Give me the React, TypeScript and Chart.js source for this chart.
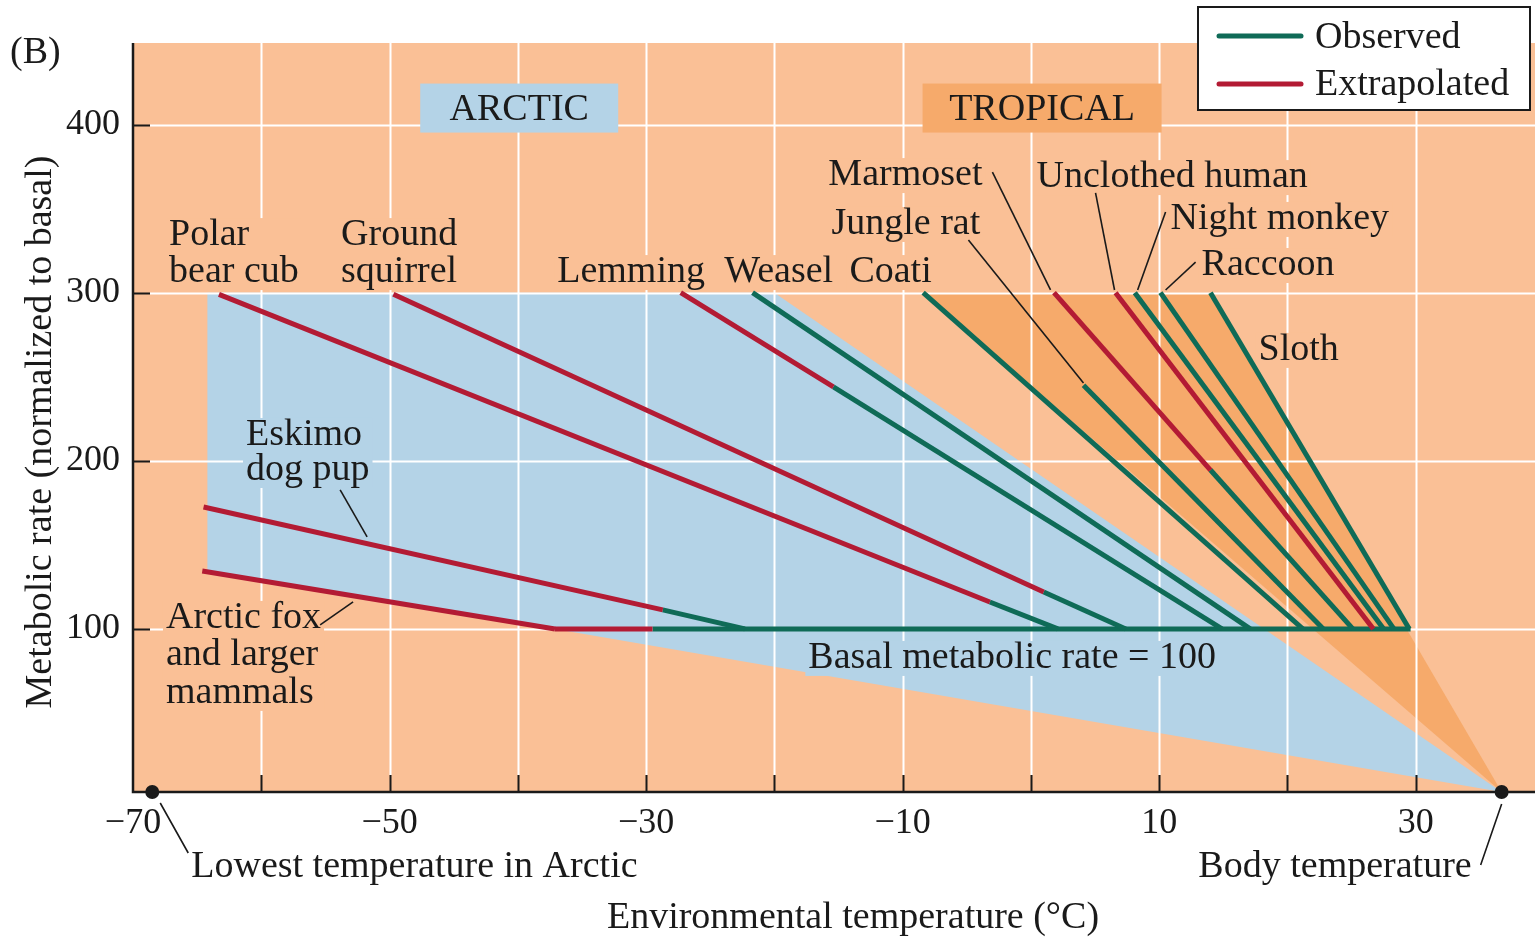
import React, { useEffect, useRef } from "react";
import { Chart, registerables } from "chart.js";

Chart.register(...registerables);

// ---------------- data ----------------
const xTickValues = [-70, -60, -50, -40, -30, -20, -10, 0, 10, 20, 30];
const xLabeledTicks = [-70, -50, -30, -10, 10, 30];
const yTickValues = [100, 200, 300, 400];
const xRange = [-70, 39.3];
const yRange = [3, 448.5];

const speciesNames = [
  "Arctic fox", "Eskimo dog pup", "Polar bear cub", "Ground squirrel", "Lemming",
  "Weasel", "Coati", "Jungle rat", "Marmoset", "Unclothed human",
  "Night monkey", "Raccoon", "Sloth",
];
// start of each curve (extrapolated part begins here)
const startTemp = [-64.6, -64.5, -63.3, -49.7, -27.3, -21.7, -8.4, 4.1, 1.8, 6.6, 8.1, 10.1, 14.0];
const startRate = [134.5, 172.5, 299, 299, 300, 300, 300, 245, 300, 300, 300, 300, 300];
// where the observed part begins
const observedFromTemp = [-37.1, -28.7, -3.2, 1.0, -15.4, -21.7, -8.4, 4.1, 14.0, 26.7, 8.1, 10.1, 14.0];
const observedFromRate = [100, 111.3, 116, 122, 244, 300, 300, 245, 194.5, 100, 300, 300, 300];
// lower critical temperature (curve meets basal rate)
const endTemp = [-37.1, -22.3, 2.1, 7.4, 14.9, 17.1, 21.2, 22.8, 25.1, 26.7, 27.5, 28.3, 29.5];

const basalRate = 100;
const basalTemp = [-37.1, -29.5, 29.6]; // extrapolated from [0]..[1], observed [1]..[2]

const arcticZoneTemp = [-64.2, -20, 36.7, -37.1, -64.2];
const arcticZoneRate = [300, 300, 3, 100, 134.5];
const tropicalZoneTemp = [-8.4, 14.0, 36.7];
const tropicalZoneRate = [300, 300, 3];

const lowestArcticTemp = -68.5;
const bodyTemp = 36.7;

// ---------------- styles ----------------
const PEACH = "#FAC096";
const BLUE = "#B4D3E7";
const DARK_ORANGE = "#F6AA6B";
const GREEN = "#0F6B57";
const RED = "#B31B34";
const INK = "#1A1A1A";
const FONT = "'Liberation Serif', 'Times New Roman', serif";
const FS = 38;
const TICK = 17;

const fmt = (v: number) => (v < 0 ? "\u2212" + Math.abs(v) : String(v));

export default function App() {
  const ref = useRef<HTMLCanvasElement>(null);

  useEffect(() => {
    document.body.style.margin = "0";
    const canvas = ref.current!;
    const datasets: any[] = [];

    const pts = (xs: number[], ys: number[]) => xs.map((x, i) => ({ x, y: ys[i] }));

    datasets.push({
      label: "arctic zone",
      data: pts(arcticZoneTemp, arcticZoneRate),
      fill: "shape",
      backgroundColor: BLUE,
      borderColor: "rgba(0,0,0,0)",
      borderWidth: 0,
      pointRadius: 0,
      order: 10,
    });
    const tropicalIndex = datasets.length;
    datasets.push({
      label: "tropical zone",
      data: pts(tropicalZoneTemp, tropicalZoneRate),
      fill: "shape",
      backgroundColor: DARK_ORANGE,
      borderColor: "rgba(0,0,0,0)",
      borderWidth: 0,
      pointRadius: 0,
      order: 9,
    });

    const lineStyle = (color: string) => ({
      borderColor: color,
      borderWidth: 5,
      borderCapStyle: "butt",
      pointRadius: 0,
      fill: false,
      order: 1,
    });

    speciesNames.forEach((name, i) => {
      const hasExtrap = startTemp[i] !== observedFromTemp[i] || startRate[i] !== observedFromRate[i];
      const hasObs = observedFromTemp[i] !== endTemp[i] || observedFromRate[i] !== basalRate;
      if (hasExtrap) {
        datasets.push({
          label: name + " (extrapolated)",
          data: [
            { x: startTemp[i], y: startRate[i] },
            { x: observedFromTemp[i], y: observedFromRate[i] },
          ],
          ...lineStyle(RED),
        });
      }
      if (hasObs) {
        datasets.push({
          label: name + " (observed)",
          data: [
            { x: observedFromTemp[i], y: observedFromRate[i] },
            { x: endTemp[i], y: basalRate },
          ],
          ...lineStyle(GREEN),
        });
      }
    });
    datasets.push({
      label: "basal extrapolated",
      data: [
        { x: basalTemp[0], y: basalRate },
        { x: basalTemp[1], y: basalRate },
      ],
      ...lineStyle(RED),
    });
    datasets.push({
      label: "basal observed",
      data: [
        { x: basalTemp[1], y: basalRate },
        { x: basalTemp[2], y: basalRate },
      ],
      ...lineStyle(GREEN),
    });
    datasets.push({
      label: "markers",
      data: [
        { x: lowestArcticTemp, y: yRange[0] },
        { x: bodyTemp, y: yRange[0] },
      ],
      showLine: false,
      pointRadius: 7,
      pointBackgroundColor: INK,
      pointBorderWidth: 0,
      clip: false,
      order: 0,
    });

    const plotLabels = [
      { lines: ["Polar", "bear cub"], t: -67.19, r: 328.3, bg: PEACH, lh: 37 },
      { lines: ["Ground", "squirrel"], t: -53.78, r: 328.3, bg: PEACH, lh: 37 },
      { lines: ["Lemming"], t: -36.93, r: 306.3, bg: PEACH, lh: 37 },
      { lines: ["Weasel"], t: -23.9, r: 306.3, bg: PEACH, lh: 37 },
      { lines: ["Coati"], t: -14.15, r: 306.3, bg: PEACH, lh: 37 },
      { lines: ["Marmoset"], t: -15.79, r: 364.0, bg: PEACH, lh: 37 },
      { lines: ["Unclothed human"], t: 0.44, r: 362.8, bg: PEACH, lh: 37 },
      { lines: ["Jungle rat"], t: -15.55, r: 334.9, bg: PEACH, lh: 37 },
      { lines: ["Night monkey"], t: 10.89, r: 337.9, bg: PEACH, lh: 37 },
      { lines: ["Raccoon"], t: 13.31, r: 310.5, bg: PEACH, lh: 37 },
      { lines: ["Sloth"], t: 17.75, r: 260.0, bg: PEACH, lh: 37 },
      { lines: ["Eskimo", "dog pup"], t: -61.19, r: 209.4, bg: BLUE, lh: 35 },
      { lines: ["Arctic fox", "and larger", "mammals"], t: -67.43, r: 100.6, bg: PEACH, lh: 37.5 },
      { lines: ["Basal metabolic rate = 100"], t: -17.35, r: 76.8, bg: BLUE, lh: 37 },
    ];
    const zoneBoxes = [
      { text: "ARCTIC", t: -39.89, r: 409.8, hw: 99, hh: 24.5, bg: BLUE },
      { text: "TROPICAL", t: 0.87, r: 409.8, hw: 119.5, hh: 24.5, bg: DARK_ORANGE },
    ];
    const leaders = [
      [-53.85, 182.7, -51.75, 154.7],
      [-55.41, 102.4, -52.84, 116.1],
      [-3.0, 371.7, 1.53, 301.6],
      [-4.87, 331.3, 4.1, 246.3],
      [5.04, 359.3, 6.52, 301.6],
      [10.5, 348.0, 8.32, 301.6],
      [12.84, 318.2, 10.5, 301.6],
    ];

    const decor = {
      id: "decor",
      beforeDraw(chart: any) {
        const { ctx, chartArea: a } = chart;
        ctx.save();
        ctx.fillStyle = PEACH;
        ctx.fillRect(a.left, a.top, a.right - a.left, a.bottom - a.top);
        ctx.restore();
      },
      afterDatasetDraw(chart: any, args: any) {
        if (args.index !== tropicalIndex) return;
        const { ctx, chartArea: a, scales } = chart;
        const xs = scales.x, ys = scales.y;
        ctx.save();
        // white grid
        ctx.strokeStyle = "#FFFFFF";
        ctx.lineWidth = 2;
        for (const v of xTickValues) {
          if (v === xRange[0]) continue;
          const px = Math.round(xs.getPixelForValue(v)) + 0.5;
          ctx.beginPath();
          ctx.moveTo(px, a.top);
          ctx.lineTo(px, a.bottom - TICK);
          ctx.stroke();
        }
        for (const v of yTickValues) {
          const py = Math.round(ys.getPixelForValue(v)) + 0.5;
          ctx.beginPath();
          ctx.moveTo(a.left + TICK, py);
          ctx.lineTo(a.right, py);
          ctx.stroke();
        }
        // labels with knock-out backgrounds
        ctx.font = `${FS}px ${FONT}`;
        ctx.textBaseline = "alphabetic";
        ctx.textAlign = "left";
        for (const L of plotLabels) {
          const x0 = xs.getPixelForValue(L.t);
          const y0 = ys.getPixelForValue(L.r);
          const w = Math.max(...L.lines.map((s) => ctx.measureText(s).width));
          const top = y0 - 27;
          const bottom = y0 + (L.lines.length - 1) * L.lh + 8;
          ctx.fillStyle = L.bg;
          ctx.fillRect(x0 - 3, top, w + 6, bottom - top);
          ctx.fillStyle = INK;
          L.lines.forEach((s, k) => ctx.fillText(s, x0, y0 + k * L.lh));
        }
        for (const Z of zoneBoxes) {
          const cx = xs.getPixelForValue(Z.t);
          const cy = ys.getPixelForValue(Z.r);
          ctx.fillStyle = Z.bg;
          ctx.fillRect(cx - Z.hw, cy - Z.hh, Z.hw * 2, Z.hh * 2);
          ctx.fillStyle = INK;
          ctx.textAlign = "center";
          ctx.fillText(Z.text, cx, cy + 12);
          ctx.textAlign = "left";
        }
        ctx.restore();
      },
      afterDatasetsDraw(chart: any) {
        const { ctx, chartArea: a, scales } = chart;
        const xs = scales.x, ys = scales.y;
        ctx.save();
        // axes
        ctx.strokeStyle = INK;
        ctx.lineWidth = 2.5;
        ctx.beginPath();
        ctx.moveTo(a.left, a.top);
        ctx.lineTo(a.left, a.bottom);
        ctx.lineTo(a.right, a.bottom);
        ctx.stroke();
        ctx.lineWidth = 2;
        for (const v of xTickValues) {
          if (v === xRange[0]) continue;
          const px = Math.round(xs.getPixelForValue(v)) + 0.5;
          ctx.beginPath();
          ctx.moveTo(px, a.bottom);
          ctx.lineTo(px, a.bottom - TICK);
          ctx.stroke();
        }
        for (const v of yTickValues) {
          const py = Math.round(ys.getPixelForValue(v)) + 0.5;
          ctx.beginPath();
          ctx.moveTo(a.left, py);
          ctx.lineTo(a.left + TICK, py);
          ctx.stroke();
        }
        // leader lines
        ctx.lineWidth = 1.6;
        for (const [t1, r1, t2, r2] of leaders) {
          ctx.beginPath();
          ctx.moveTo(xs.getPixelForValue(t1), ys.getPixelForValue(r1));
          ctx.lineTo(xs.getPixelForValue(t2), ys.getPixelForValue(r2));
          ctx.stroke();
        }
        const lowX = xs.getPixelForValue(lowestArcticTemp);
        const bodyX = xs.getPixelForValue(bodyTemp);
        ctx.beginPath();
        ctx.moveTo(lowX + 8, a.bottom + 11);
        ctx.lineTo(lowX + 36, a.bottom + 61);
        ctx.moveTo(bodyX, a.bottom + 12);
        ctx.lineTo(bodyX - 21, a.bottom + 73);
        ctx.stroke();

        // outside text
        ctx.fillStyle = INK;
        ctx.font = `${FS}px ${FONT}`;
        ctx.textBaseline = "alphabetic";
        ctx.textAlign = "left";
        ctx.fillText("Lowest temperature in Arctic", lowX + 39, a.bottom + 85);
        ctx.textAlign = "right";
        ctx.fillText("Body temperature", bodyX - 30, a.bottom + 85);
        ctx.textAlign = "center";
        ctx.fillText("Environmental temperature (\u00B0C)", a.left + 720, a.bottom + 136);
        ctx.textAlign = "left";
        ctx.fillText("(B)", 10, 63);
        ctx.save();
        ctx.translate(51, 432);
        ctx.rotate(-Math.PI / 2);
        ctx.textAlign = "center";
        ctx.fillText("Metabolic rate (normalized to basal)", 0, 0);
        ctx.restore();

        // legend
        const bx = a.right - 337, by = 7, bw = 332, bh = 103;
        ctx.fillStyle = "#FFFFFF";
        ctx.fillRect(bx, by, bw, bh);
        ctx.strokeStyle = INK;
        ctx.lineWidth = 2;
        ctx.strokeRect(bx, by, bw, bh);
        ctx.lineWidth = 5;
        ctx.lineCap = "round";
        ctx.strokeStyle = GREEN;
        ctx.beginPath();
        ctx.moveTo(bx + 21, by + 29);
        ctx.lineTo(bx + 103, by + 29);
        ctx.stroke();
        ctx.strokeStyle = RED;
        ctx.beginPath();
        ctx.moveTo(bx + 21, by + 77);
        ctx.lineTo(bx + 103, by + 77);
        ctx.stroke();
        ctx.fillStyle = INK;
        ctx.textAlign = "left";
        ctx.fillText("Observed", bx + 117, by + 41);
        ctx.fillText("Extrapolated", bx + 117, by + 88);
        ctx.restore();
      },
    };

    const chart = new Chart(canvas, {
      type: "line",
      data: { datasets },
      options: {
        responsive: false,
        devicePixelRatio: 1,
        animation: false,
        events: [],
        layout: { autoPadding: false, padding: { top: 43, left: 0, right: 0, bottom: 0 } },
        plugins: { legend: { display: false }, tooltip: { enabled: false } },
        scales: {
          x: {
            type: "linear",
            min: xRange[0],
            max: xRange[1],
            grid: { display: false, drawTicks: false },
            border: { display: false },
            afterBuildTicks: (s: any) => {
              s.ticks = xTickValues.map((value) => ({ value }));
            },
            afterFit: (s: any) => {
              s.height = 147;
              s.paddingLeft = 0;
              s.paddingRight = 0;
            },
            ticks: {
              autoSkip: false,
              maxRotation: 0,
              padding: 10,
              color: INK,
              font: { family: FONT, size: 36 },
              callback: (v: any) => (xLabeledTicks.includes(Number(v)) ? fmt(Number(v)) : ""),
            },
          },
          y: {
            type: "linear",
            min: yRange[0],
            max: yRange[1],
            grid: { display: false, drawTicks: false },
            border: { display: false },
            afterBuildTicks: (s: any) => {
              s.ticks = yTickValues.map((value) => ({ value }));
            },
            afterFit: (s: any) => {
              s.width = 133;
              s.paddingTop = 0;
              s.paddingBottom = 0;
            },
            ticks: {
              padding: 13,
              color: INK,
              font: { family: FONT, size: 36 },
              callback: (v: any) => fmt(Number(v)),
            },
          },
        },
      },
      plugins: [decor],
    } as any);

    return () => chart.destroy();
  }, []);

  return (
    <div style={{ width: 1535, height: 939 }}>
      <canvas ref={ref} width={1535} height={939} style={{ display: "block" }} />
    </div>
  );
}
